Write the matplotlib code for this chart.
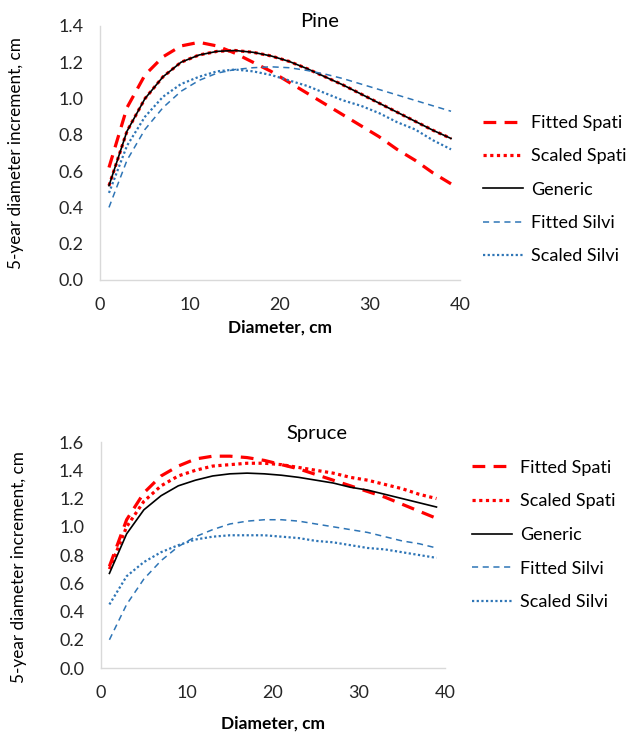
import matplotlib
matplotlib.use("Agg")
import matplotlib.pyplot as plt

plt.rcParams['font.family'] = ['Lato', 'DejaVu Sans']

# Diameter, cm
diameter = [1, 3, 5, 7, 9, 11, 13, 15, 17, 19, 21, 23, 25, 27, 29, 31, 33, 35, 37, 39]

# Pine, 5-year diameter increment (cm)
pine_fitted_spati = [0.62, 0.95, 1.13, 1.23, 1.29, 1.31, 1.29, 1.25, 1.20, 1.15, 1.09, 1.03,
                     0.97, 0.91, 0.85, 0.79, 0.72, 0.66, 0.59, 0.53]
pine_scaled_spati = [0.52, 0.82, 1.00, 1.12, 1.20, 1.24, 1.26, 1.265, 1.255, 1.235, 1.205, 1.165,
                     1.12, 1.075, 1.025, 0.975, 0.925, 0.875, 0.825, 0.78]
pine_generic = [0.52, 0.82, 1.00, 1.12, 1.20, 1.24, 1.26, 1.265, 1.255, 1.235, 1.205, 1.165,
                1.12, 1.075, 1.025, 0.975, 0.925, 0.875, 0.825, 0.78]
pine_fitted_silvi = [0.40, 0.66, 0.83, 0.95, 1.04, 1.10, 1.14, 1.16, 1.17, 1.175, 1.17, 1.155,
                     1.135, 1.11, 1.08, 1.05, 1.02, 0.99, 0.96, 0.93]
pine_scaled_silvi = [0.48, 0.74, 0.90, 1.01, 1.08, 1.12, 1.15, 1.16, 1.15, 1.13, 1.10, 1.07,
                     1.03, 0.99, 0.96, 0.92, 0.87, 0.83, 0.77, 0.72]

# Spruce, 5-year diameter increment (cm)
spruce_fitted_spati = [0.72, 1.05, 1.24, 1.36, 1.43, 1.48, 1.50, 1.50, 1.49, 1.47, 1.44, 1.41,
                       1.37, 1.33, 1.29, 1.25, 1.21, 1.16, 1.11, 1.06]
spruce_scaled_spati = [0.70, 1.00, 1.18, 1.29, 1.36, 1.40, 1.43, 1.44, 1.45, 1.45, 1.44, 1.42,
                       1.40, 1.38, 1.35, 1.33, 1.30, 1.27, 1.23, 1.20]
spruce_generic = [0.67, 0.95, 1.12, 1.22, 1.29, 1.33, 1.36, 1.375, 1.38, 1.375, 1.365, 1.35,
                  1.33, 1.31, 1.28, 1.26, 1.23, 1.20, 1.17, 1.14]
spruce_fitted_silvi = [0.20, 0.45, 0.63, 0.76, 0.86, 0.93, 0.98, 1.02, 1.04, 1.05, 1.05, 1.04,
                       1.02, 1.00, 0.98, 0.96, 0.93, 0.90, 0.88, 0.85]
spruce_scaled_silvi = [0.45, 0.65, 0.75, 0.82, 0.87, 0.91, 0.93, 0.94, 0.94, 0.94, 0.93, 0.92,
                       0.90, 0.89, 0.87, 0.85, 0.84, 0.82, 0.80, 0.78]

labels = ['Fitted Spati', 'Scaled Spati', 'Generic', 'Fitted Silvi', 'Scaled Silvi']

RED = '#ff0000'
BLUE = '#2e75b6'
GRID = '#d9d9d9'

styles = [
    dict(color=RED, lw=2.3, dashes=(4, 2.6)),
    dict(color=RED, lw=2.3, dashes=(1, 1.1)),
    dict(color='black', lw=1.2),
    dict(color=BLUE, lw=1.1, dashes=(4, 3)),
    dict(color=BLUE, lw=1.6, dashes=(1, 1.1)),
]


def draw_panel(ax, series, title, ymax, title_pos, ylab_pos, xlab_y):
    for vals, lab, st in zip(series, labels, styles):
        ax.plot(diameter, vals, label=lab, **st)
    ax.set_xlim(0, 40)
    ax.set_ylim(0, ymax)
    ax.set_xticks([0, 10, 20, 30, 40])
    ax.set_yticks([i * 0.2 for i in range(int(round(ymax / 0.2)) + 1)])
    ax.yaxis.set_major_formatter(matplotlib.ticker.FormatStrFormatter('%.1f'))
    ax.tick_params(length=0, labelsize=13, pad=12, colors='#262626')
    for s in ['top', 'right']:
        ax.spines[s].set_visible(False)
    for s in ['left', 'bottom']:
        ax.spines[s].set_color(GRID)
        ax.spines[s].set_linewidth(1.0)
    ax.text(title_pos[0], title_pos[1], title, transform=ax.transAxes,
            ha='center', va='center', fontsize=14.5)
    ax.set_ylabel('5-year diameter increment, cm', fontsize=12.3)
    ax.yaxis.set_label_coords(*ylab_pos)
    ax.set_xlabel('Diameter, cm', fontsize=12.5, fontweight='bold')
    ax.xaxis.set_label_coords(0.5, xlab_y)


fig = plt.figure(figsize=(6.34, 7.32), dpi=100)

ax1 = fig.add_axes([0.1577, 0.6175, 0.5679, 0.347])
draw_panel(ax1, [pine_fitted_spati, pine_scaled_spati, pine_generic,
                 pine_fitted_silvi, pine_scaled_silvi],
           'Pine', 1.4, (0.61, 1.016), (-0.21, 0.5), -0.157)
ax1.legend(loc='upper left', bbox_to_anchor=(0.762, 0.843), bbox_transform=fig.transFigure,
           frameon=False, fontsize=13, handlelength=2.2, handletextpad=0.45,
           labelspacing=0.96, borderaxespad=0, borderpad=0)

ax2 = fig.add_axes([0.159, 0.0874, 0.543, 0.3087])
draw_panel(ax2, [spruce_fitted_spati, spruce_scaled_spati, spruce_generic,
                 spruce_fitted_silvi, spruce_scaled_silvi],
           'Spruce', 1.6, (0.628, 1.04), (-0.215, 0.447), -0.208)
ax2.legend(loc='upper left', bbox_to_anchor=(0.745, 0.372), bbox_transform=fig.transFigure,
           frameon=False, fontsize=13, handlelength=2.2, handletextpad=0.45,
           labelspacing=0.98, borderaxespad=0, borderpad=0)

fig.savefig('out.png', dpi=100)
